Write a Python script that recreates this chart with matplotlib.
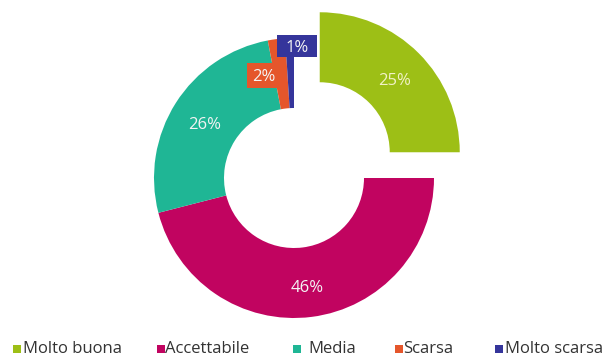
import matplotlib.pyplot as plt
from matplotlib.patches import Rectangle
import numpy as np

# survey answers
categories = ['Molto buona', 'Accettabile', 'Media', 'Scarsa', 'Molto scarsa']
values = [25, 46, 26, 2, 1]
colors = ['#9dbf16', '#c10460', '#1fb695', '#e5562b', '#35359b']

plt.rcParams['font.family'] = ['Open Sans', 'DejaVu Sans']

fig = plt.figure(figsize=(6.08, 3.6), dpi=100)
ax = fig.add_axes([0, 0, 1, 1])

R = 140
cx, cy = 294, 182
# explode is in data units here since radius is not 1
explode = [0.26 * R, 0, 0, 0, 0]

wedges, _ = ax.pie(values, colors=colors, startangle=90, counterclock=False,
                   radius=R, center=(cx, cy), explode=explode,
                   wedgeprops=dict(width=R * 0.5, linewidth=0))

ax.set_xlim(0, 608)
ax.set_ylim(0, 360)
ax.set_aspect('equal')
ax.axis('off')

# percentage labels at mid-ring, small slices get boxed callouts
for i, (w, v) in enumerate(zip(wedges, values)):
    mid = np.deg2rad((w.theta1 + w.theta2) / 2)
    wx, wy = w.center
    r = R * 0.76
    x = wx + r * np.cos(mid)
    y = wy + r * np.sin(mid)
    txt = '%d%%' % v
    if categories[i] == 'Scarsa':
        x, y = x - 17, y - 3
        ax.add_patch(Rectangle((x - 17, y - 12.5), 34, 25, fc=colors[i], ec='none', zorder=3))
        ax.text(x, y, txt, ha='center', va='center_baseline', fontsize=12, color='#f4f4f4', zorder=4)
    elif categories[i] == 'Molto scarsa':
        x, y = x + 6, y + 26
        ax.add_patch(Rectangle((x - 20, y - 11), 40, 22, fc=colors[i], ec='none', zorder=3))
        ax.text(x, y, txt, ha='center', va='center_baseline', fontsize=12, color='#f4f4f4', zorder=4)
    else:
        tc = '#f2f2c8' if i == 0 else '#f4f4f4'
        ax.text(x, y - 2, txt, ha='center', va='center_baseline', fontsize=12, color=tc)

# legend row along the bottom
leg_x = [13, 157, 293, 395, 495]
leg_tx = [23, 165, 308, 403, 505]
leg_y = 11
for c, lab, sx, tx in zip(colors, categories, leg_x, leg_tx):
    ax.add_patch(Rectangle((sx, leg_y - 3.5), 7.5, 7.5, fc=c, ec='none'))
    ax.text(tx, leg_y, lab, ha='left', va='center', fontsize=12, color='#333333')

fig.savefig('out.png', dpi=100)
